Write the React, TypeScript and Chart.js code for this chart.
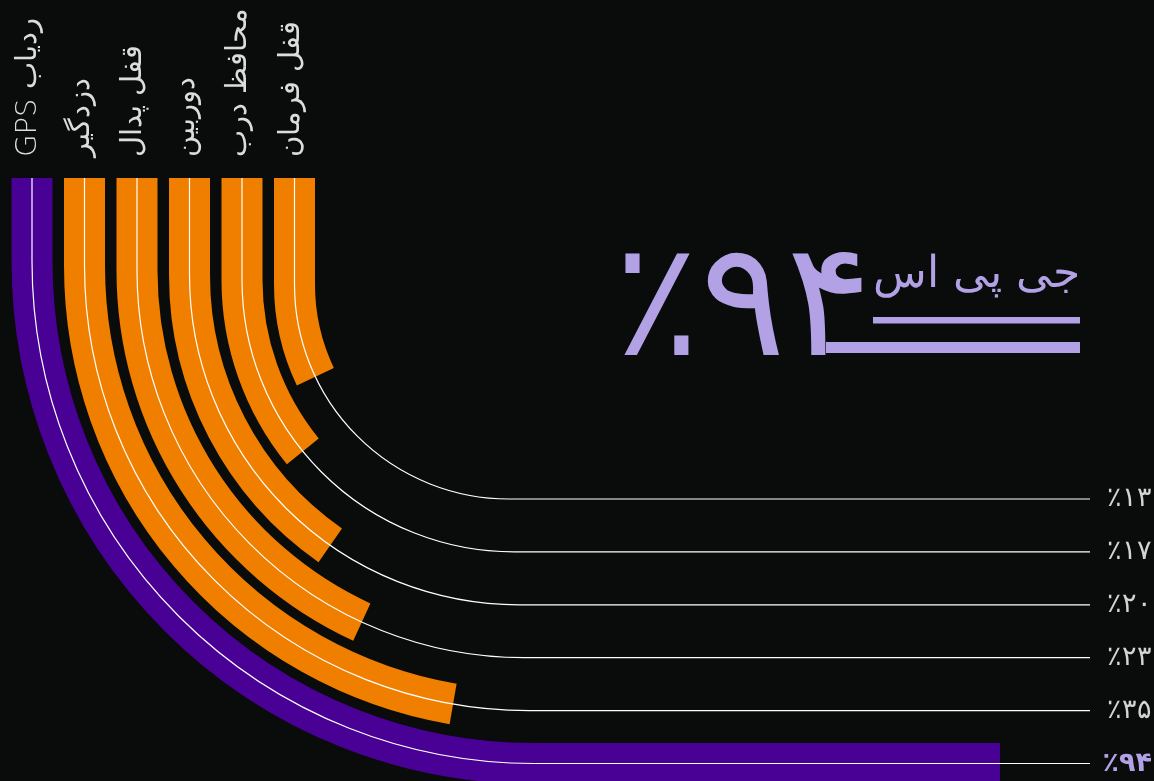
import React, { useEffect, useRef } from 'react';
import { Chart, registerables } from 'chart.js';

Chart.register(...registerables);

// ---- data ----
const categories = ['ردیاب GPS', 'دزدگیر', 'قفل پدال', 'دوربین', 'محافظ درب', 'قفل فرمان'];
const shares = [94, 35, 23, 20, 17, 13];
// how far each bent bar runs along its own track, in % of the track
const barReach = [93.7, 52.7, 42.1, 34.9, 26.0, 19.7];
const headlineTitle = 'جی پی اس';
const headlineValue = 94;

// ---- styles / layout ----
const BG = '#0a0c0b';
const PURPLE = '#490094';
const ORANGE = '#f07f00';
const LAVENDER = '#b3a1e6';
const LABEL = '#dcdcdc';
const FONT = '"DejaVu Sans", sans-serif';

const TOP = 178;
const X0 = 32;
const PITCH_X = 52.5;
const R0 = 502;
const DR = 57.5;
const TRACK_END = 1090;
const BAR_W = 41;

const fa = (n: number) => String(n).replace(/\d/g, (d) => '۰۱۲۳۴۵۶۷۸۹'[+d]);
const pct = (n: number) => '٪' + fa(n);

const bentBars = {
  id: 'bentBars',
  beforeDraw(chart: any) {
    const ctx = chart.ctx;
    ctx.save();
    ctx.fillStyle = BG;
    ctx.fillRect(0, 0, chart.width, chart.height);
    ctx.restore();
  },
  afterDatasetsDraw(chart: any) {
    const ctx: CanvasRenderingContext2D = chart.ctx;
    const ys = chart.scales.y;
    const xs = chart.scales.x;
    ctx.save();

    const tracks = categories.map((_, i) => {
      const yh = ys.getPixelForValue(i);
      const x = X0 + PITCH_X * i;
      const r = R0 - DR * i;
      const cx = x + r;
      const cy = yh - r;
      const V = cy - TOP;
      const A = (Math.PI * r) / 2;
      const H = TRACK_END - cx;
      return { x, yh, r, cx, cy, V, A, H, total: V + A + H };
    });

    const trace = (t: any, s: number) => {
      ctx.beginPath();
      ctx.moveTo(t.x, TOP);
      if (s <= t.V) {
        ctx.lineTo(t.x, TOP + s);
        return;
      }
      ctx.lineTo(t.x, t.cy);
      const ang = Math.min(s - t.V, t.A) / t.r;
      ctx.arc(t.cx, t.cy, t.r, Math.PI, Math.PI - ang, true);
      if (s > t.V + t.A) ctx.lineTo(t.cx + (s - t.V - t.A), t.yh);
    };

    // bars
    tracks.forEach((t, i) => {
      const frac = (xs.getPixelForValue(barReach[i]) - xs.left) / (xs.right - xs.left);
      trace(t, frac * t.total);
      ctx.lineWidth = BAR_W;
      ctx.lineCap = 'butt';
      ctx.lineJoin = 'round';
      ctx.strokeStyle = i === 0 ? PURPLE : ORANGE;
      ctx.stroke();
    });

    // full tracks (thin white lines)
    tracks.forEach((t) => {
      trace(t, t.total);
      ctx.lineWidth = 1.2;
      ctx.lineCap = 'butt';
      ctx.strokeStyle = '#ffffff';
      ctx.stroke();
    });

    // rotated category labels
    ctx.fillStyle = LABEL;
    ctx.font = `300 29px ${FONT}`;
    ctx.textBaseline = 'alphabetic';
    tracks.forEach((t, i) => {
      ctx.save();
      ctx.translate(t.x + 4, 157);
      ctx.rotate(-Math.PI / 2);
      (ctx as any).direction = 'rtl';
      ctx.textAlign = 'left';
      ctx.fillText(categories[i], 0, 0);
      ctx.restore();
    });

    // headline
    ctx.fillStyle = LAVENDER;
    (ctx as any).direction = 'ltr';
    ctx.textAlign = 'left';
    ctx.font = `300 160px ${FONT}`;
    ctx.fillText(pct(headlineValue), 614, 355);
    ctx.textAlign = 'right';
    ctx.font = `300 44px ${FONT}`;
    (ctx as any).direction = 'rtl';
    ctx.fillText(headlineTitle, 1080, 287);
    ctx.fillRect(873, 317, 207, 6.5);
    ctx.fillRect(826, 342, 254, 11);

    ctx.restore();
  },
};

export default function App() {
  const ref = useRef<HTMLCanvasElement | null>(null);
  useEffect(() => {
    document.body.style.margin = '0';
    document.body.style.background = BG;
    const chart = new Chart(ref.current as HTMLCanvasElement, {
      type: 'bar',
      data: {
        labels: categories,
        datasets: [
          {
            data: barReach,
            backgroundColor: 'rgba(0,0,0,0)',
            hoverBackgroundColor: 'rgba(0,0,0,0)',
            borderWidth: 0,
          },
        ],
      },
      options: {
        indexAxis: 'y',
        responsive: false,
        maintainAspectRatio: false,
        devicePixelRatio: 1,
        animation: false,
        events: [],
        layout: { padding: { top: 499, bottom: 17, left: 0, right: 2 } },
        plugins: { legend: { display: false }, tooltip: { enabled: false } },
        scales: {
          x: { type: 'linear', min: 0, max: 100, display: false },
          y: {
            type: 'category',
            position: 'right',
            reverse: true,
            offset: false,
            grid: { display: false },
            border: { display: false },
            ticks: {
              autoSkip: false,
              crossAlign: 'far',
              padding: 4,
              callback: (_v: any, i: number) => pct(shares[i]),
              color: (c: any) => (c.index === 0 ? LAVENDER : '#d4d4d4'),
              font: (c: any) =>
                c.index === 0
                  ? { family: FONT, size: 27, weight: 'bold', lineHeight: 1 }
                  : { family: FONT, size: 27, weight: '300', lineHeight: 1 },
            },
          },
        },
      },
      plugins: [bentBars],
    } as any);
    return () => chart.destroy();
  }, []);
  return (
    <div style={{ position: 'fixed', left: 0, top: 0, width: 1154, height: 781, background: BG }}>
      <canvas ref={ref} width={1154} height={781} style={{ display: 'block' }} />
    </div>
  );
}
